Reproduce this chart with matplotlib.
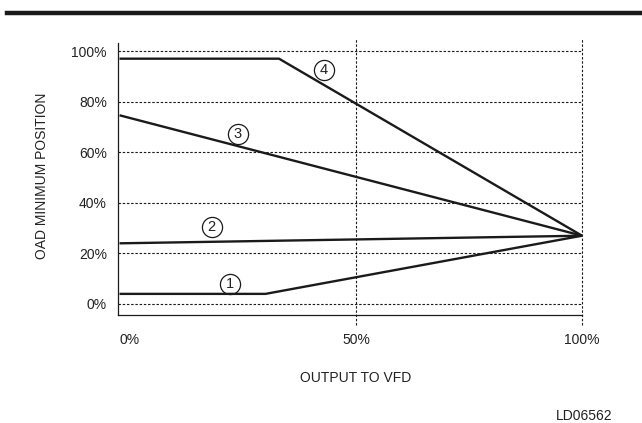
import numpy as np
import matplotlib
matplotlib.use('Agg')
import matplotlib.pyplot as plt
from matplotlib.lines import Line2D

plt.rcParams['font.family'] = ['Liberation Sans', 'DejaVu Sans']

# curve data (output to VFD %, OAD minimum position %)
x1 = [-2, 30, 100]
y1 = [4, 4, 27]
x2 = [-2, 100]
y2 = [24, 27]
x3 = [-2, 100]
y3 = [74.5, 27]
x4 = [-2, 33, 100]
y4 = [97, 97, 27]

# circled labels: number, x, y
lab_num = ['1', '2', '3', '4']
lab_x = [22.1, 18.1, 23.9, 42.9]
lab_y = [7.8, 30.6, 67.4, 92.7]

yticks = [0, 20, 40, 60, 80, 100]
xticks = [0, 50, 100]

ink = '#1a1a1a'
txt = '#222222'

fig = plt.figure(figsize=(6.42, 4.23), dpi=100)
ax = fig.add_axes([118/642, 1-315/423, 464/642, 272/423])

# top rule
fig.add_artist(Line2D([7/642, 1], [1-13.5/423, 1-13.5/423], color=ink, lw=3.2))

dot = (0, (2.2, 1.6))
for y in yticks:
    ax.axhline(y, color=ink, lw=0.8, ls=dot, zorder=1)
for x in xticks[1:]:
    ax.axvline(x, ymin=-0.037, ymax=1.015, color=ink, lw=0.8, ls=dot, clip_on=False, zorder=1)

for xs, ys in [(x1, y1), (x2, y2), (x3, y3), (x4, y4)]:
    ax.plot(xs, ys, color=ink, lw=1.7, solid_joinstyle='miter', zorder=3)

for n, x, y in zip(lab_num, lab_x, lab_y):
    ax.plot(x, y, 'o', ms=14.5, mfc='none', mec=ink, mew=0.9, zorder=4)
    ax.text(x, y, n, ha='center', va='center', fontsize=10.5, color=txt, zorder=5)

ax.set_xlim(-2.6, 100)
ax.set_ylim(-4.35, 103.2)
ax.set_xticks(xticks)
ax.set_xticklabels([f'{v}%' for v in xticks])
ax.set_yticks(yticks)
ax.set_yticklabels([f'{v}%' for v in yticks])
ax.tick_params(axis='x', length=0, pad=13, labelsize=10, labelcolor=txt)
ax.tick_params(axis='y', length=0, pad=8, labelsize=10, labelcolor=txt)

for s in ['top', 'right']:
    ax.spines[s].set_visible(False)
for s in ['left', 'bottom']:
    ax.spines[s].set_linewidth(0.9)
    ax.spines[s].set_color(ink)

fig.text(42/642, 1-176/423, 'OAD MINIMUM POSITION', rotation=90, ha='center', va='center',
         fontsize=10, color=txt)
fig.text(356/642, 1-378/423, 'OUTPUT TO VFD', ha='center', va='center', fontsize=10, color=txt)
fig.text(584/642, 1-416/423, 'LD06562', ha='center', va='center', fontsize=10, color=txt)

fig.savefig('out.png', dpi=100)
